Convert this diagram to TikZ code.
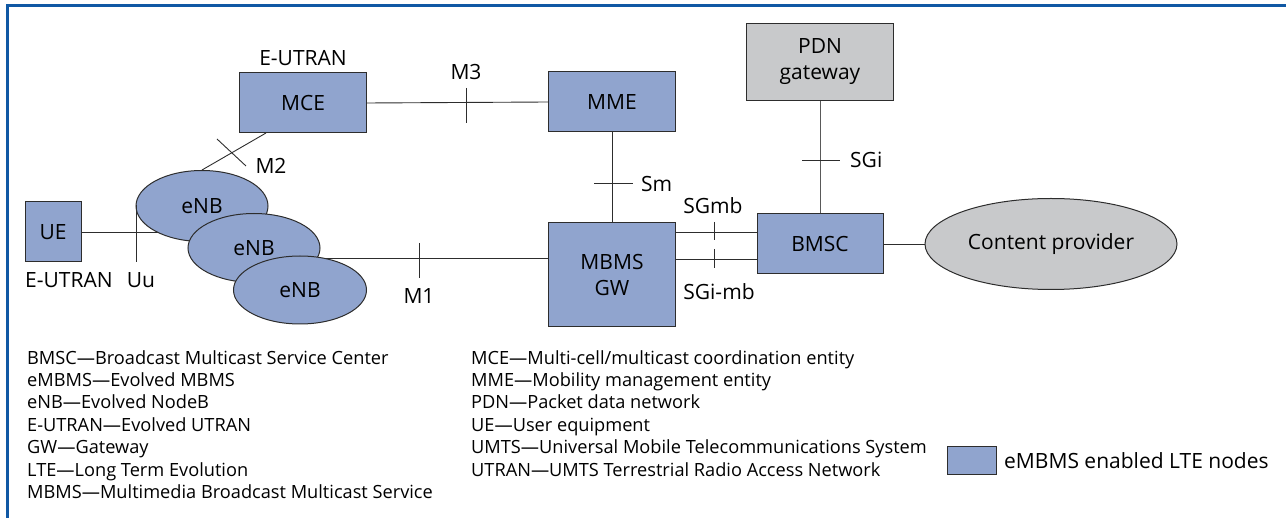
\documentclass[tikz,border=0pt]{standalone}
\usepackage{fontspec}
\setmainfont{Open Sans}
\usetikzlibrary{shapes.geometric,positioning,backgrounds}
\definecolor{lteblue}{RGB}{144,164,206}
\definecolor{pdngray}{RGB}{200,201,203}
\definecolor{frameblue}{RGB}{16,88,164}
\definecolor{linegray}{RGB}{45,45,45}

\begin{document}
\begin{tikzpicture}[x=1pt,y=-1pt,
  font=\fontsize{21}{26}\selectfont,
  lte/.style={draw=linegray,fill=lteblue,line width=1pt,inner sep=0pt,align=center},
  pdnbox/.style={lte,fill=pdngray},
  cell/.style={lte,ellipse},
  link/.style={draw=linegray,line width=0.9pt},
  legend/.style={anchor=north west,align=left,inner sep=0pt,
                 font=\fontsize{18.2}{22.4}\selectfont}]
\useasboundingbox (0,0) rectangle (1286,518);
\draw[frameblue,line width=3pt] (7,518) -- (7,6) -- (1286,6);

% network nodes
\node[lte,minimum width=56pt,minimum height=60pt] (ue) at (53,232) {UE};
\node[cell,minimum width=132pt,minimum height=71pt] (enbA) at (202,206) {eNB};
\node[cell,minimum width=132pt,minimum height=69pt] (enbB) at (254,248) {eNB};
\node[cell,minimum width=133pt,minimum height=68pt] (enbC) at (300,290) {eNB};
\node[lte,minimum width=127pt,minimum height=60pt] (mce) at (303,103) {MCE};
\node[lte,minimum width=127pt,minimum height=60pt] (mme) at (612,102) {MME};
\node[lte,minimum width=127pt,minimum height=104pt] (gw) at (612,275) {MBMS\\GW};
\node[lte,minimum width=126pt,minimum height=60pt] (bmsc) at (820,244) {BMSC};
\node[pdnbox,minimum width=147pt,minimum height=77pt] (pdn) at (820,62) {PDN\\gateway};
\node[cell,fill=pdngray,minimum width=252pt,minimum height=91pt] (cp) at (1051,244) {Content provider};

\coordinate (m1) at (419,258);
\coordinate (sgmb) at (714,232);
\coordinate (sgimb) at (714,259);

% interfaces
\begin{pgfonlayer}{background}
  \draw[link] (ue.east) -- (ue.east -| enbA.center);
  \draw[link] (enbA.north) -- (266,133);
  \draw[link] (mce.east) -- (mme.west);
  \draw[link] (mme) -- (gw);
  \draw[link] (gw.west |- m1) -- (enbB.center |- m1);
  \draw[link] (gw.east |- sgmb) -- (bmsc.west |- sgmb);
  \draw[link] (gw.east |- sgimb) -- (bmsc.west |- sgimb);
  \draw[link,draw=black!65] (pdn) -- (bmsc);
  \draw[link] (bmsc) -- (cp);
\end{pgfonlayer}

% ticks
\draw[link] (136,205) -- (136,262);
\draw[link] (217,139) -- (246,166);
\draw[link] (466,88) -- (466,123);
\draw[link] (594,183) -- (633,183);
\draw[link] (m1) ++(0,-15) -- ++(0,35);
\draw[link] (sgmb) ++(0,-10) -- ++(0,18);
\draw[link] (sgimb) ++(0,-10) -- ++(0,19);
\draw[link] (802,160) -- (840,160);

% interface labels
\node (eutranA) at (303,58) {E-UTRAN};
\node[anchor=west,inner sep=0pt] (eutranB) at (25,280) {E-UTRAN};
\node (uu) at (141,280) {Uu};
\node (lm2) at (271,166) {M2};
\node (lm3) at (466,72) {M3};
\node (lm1) at (419,296) {M1};
\node[anchor=west,inner sep=0pt] (lsm) at (641,184) {Sm};
\node (lsgmb) at (713,206) {SGmb};
\node (lsgimb) at (719,292) {SGi-mb};
\node[anchor=west,inner sep=0pt] (lsgi) at (850,160) {SGi};

% abbreviations
\node[legend] (abbrA) at (27,350) {BMSC---Broadcast Multicast Service Center\\
  eMBMS---Evolved MBMS\\ eNB---Evolved NodeB\\ E-UTRAN---Evolved UTRAN\\
  GW---Gateway\\ LTE---Long Term Evolution\\
  MBMS---Multimedia Broadcast Multicast Service};
\node[legend] (abbrB) at (471,350) {MCE---Multi-cell/multicast coordination entity\\
  MME---Mobility management entity\\ PDN---Packet data network\\
  UE---User equipment\\ UMTS---Universal Mobile Telecommunications System\\
  UTRAN---UMTS Terrestrial Radio Access Network};

\node[lte,minimum width=49pt,minimum height=28pt] (key) at (972,461) {};
\node[right=7pt of key,inner sep=0pt] (keytext) {eMBMS enabled LTE nodes};
\end{tikzpicture}
\end{document}
